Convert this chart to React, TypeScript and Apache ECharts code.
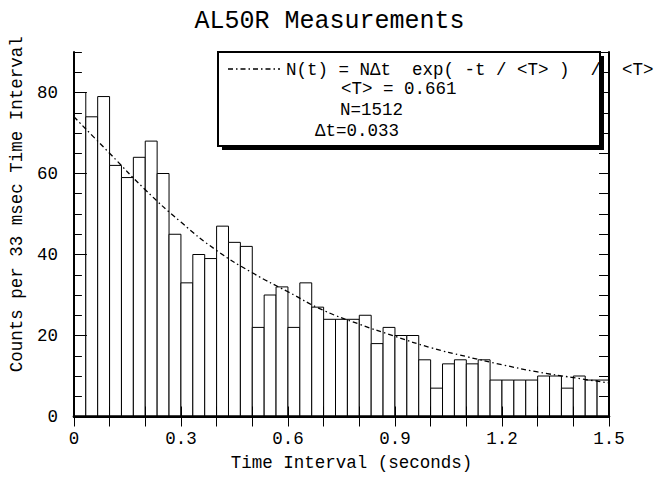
import React, { useEffect, useRef } from "react";
import * as echarts from "echarts";

// ---- data ----
const BIN_WIDTH = 1 / 30; // seconds per bin (33 msec)
const counts: number[] = [
  80, 74, 79, 62, 59, 64, 68, 60, 45, 33,
  40, 39, 47, 43, 42, 22, 30, 32, 22, 33,
  27, 24, 24, 24, 25, 18, 22, 20, 20, 14,
  7, 13, 14, 13, 14, 9, 9, 9, 9, 10,
  10, 7, 10, 9, 9,
];
const fitTimes: number[] = [0, 0.1, 0.2, 0.3, 0.4, 0.5, 0.6, 0.7, 0.8, 0.9, 1.0, 1.1, 1.2, 1.3, 1.4, 1.5];
const fitValues: number[] = [74, 65, 56, 48, 41, 35.5, 30.8, 26.2, 22.8, 19.8, 17, 14.8, 12.8, 11, 9.6, 8.3];
const xTicks = { min: 0, max: 1.5, interval: 0.3 };
const yTicks = { min: 0, max: 90, interval: 20 };

const TITLE = "AL50R Measurements";
const X_NAME = "Time Interval (seconds)";
const Y_NAME = "Counts per 33 msec Time Interval";
const FIT_NAME = "N(t) = N\u0394t  exp( -t / <T> )  /  <T>";
const INFO_LINES = ["<T> = 0.661", "N=1512", "\u0394t=0.033"];

const MONO = "'Liberation Mono', 'Courier New', monospace";
const FIT_DASH = [5, 3, 1.5, 3];

export default function App() {
  const ref = useRef<HTMLDivElement>(null);

  useEffect(() => {
    document.body.style.margin = "0";
    if (!ref.current) return;
    const chart = echarts.init(ref.current, undefined, { renderer: "svg" });

    const histData = counts.map((c, i) => [i * BIN_WIDTH, (i + 1) * BIN_WIDTH, c]);
    const fitData = fitTimes.map((t, i) => [t, fitValues[i]]);

    const axisLineStyle = { color: "#000", width: 2 };
    const fontBase = { fontFamily: MONO, color: "#000", fontSize: 17.5 };
    const textStyle = (text: string) => ({
      text,
      font: `17.5px ${MONO}`,
      fill: "#000",
      verticalAlign: "middle",
      align: "left",
    });

    const option: any = {
      animation: false,
      backgroundColor: "#fff",
      title: {
        text: TITLE,
        left: "center",
        top: 4,
        textStyle: { fontFamily: MONO, fontSize: 25, fontWeight: "normal", color: "#000" },
      },
      grid: { left: 71, right: 50, top: 52, bottom: 66.5 },
      xAxis: [
        {
          type: "value",
          position: "bottom",
          min: xTicks.min,
          max: xTicks.max,
          interval: xTicks.interval,
          z: 5,
          axisLine: { show: true, lineStyle: { ...axisLineStyle, width: 2.5 } },
          axisTick: { show: true, inside: true, length: 10, lineStyle: { color: "#000", width: 1 } },
          minorTick: { show: true, splitNumber: 3, length: 10, lineStyle: { color: "#000", width: 1 } },
          splitLine: { show: false },
          axisLabel: { ...fontBase, margin: 13 },
          name: X_NAME,
          nameLocation: "middle",
          nameGap: 37,
          nameTextStyle: { ...fontBase, padding: [0, 0, 0, 20] },
        },
        {
          type: "value",
          position: "top",
          min: xTicks.min,
          max: xTicks.max,
          interval: xTicks.interval,
          z: 5,
          axisLine: { show: true, lineStyle: axisLineStyle },
          axisTick: { show: true, inside: true, length: 10, lineStyle: { color: "#000", width: 1 } },
          minorTick: { show: true, splitNumber: 3, length: 10, lineStyle: { color: "#000", width: 1 } },
          splitLine: { show: false },
          axisLabel: { show: false },
        },
      ],
      yAxis: [
        {
          type: "value",
          position: "left",
          min: yTicks.min,
          max: yTicks.max,
          interval: yTicks.interval,
          z: 5,
          axisLine: { show: true, lineStyle: axisLineStyle },
          axisTick: { show: true, inside: true, length: 13, lineStyle: { color: "#000", width: 1 } },
          splitLine: { show: false },
          axisLabel: { ...fontBase, margin: 16, showMaxLabel: false },
          name: Y_NAME,
          nameLocation: "middle",
          nameGap: 40,
          nameTextStyle: { ...fontBase, padding: [0, 0, 0, 60] },
        },
        {
          type: "value",
          position: "left",
          min: yTicks.min,
          max: yTicks.max,
          interval: 5,
          z: 5,
          axisLine: { show: false },
          axisTick: { show: true, inside: true, length: 8, lineStyle: { color: "#000", width: 1 } },
          splitLine: { show: false },
          axisLabel: { show: false },
        },
        {
          type: "value",
          position: "right",
          min: yTicks.min,
          max: yTicks.max,
          interval: 5,
          z: 5,
          axisLine: { show: true, lineStyle: axisLineStyle },
          axisTick: { show: true, inside: true, length: 10, lineStyle: { color: "#000", width: 1 } },
          splitLine: { show: false },
          axisLabel: { show: false },
        },
      ],
      graphic: [
        {
          type: "rect",
          z: 1,
          shape: { x: 222, y: 56, width: 382, height: 94 },
          style: { fill: "#000" },
        },
        {
          type: "rect",
          z: 1,
          shape: { x: 218, y: 52, width: 382, height: 94 },
          style: { fill: "#fff", stroke: "#000", lineWidth: 2 },
        },
        {
          type: "line",
          z: 7,
          shape: { x1: 228, y1: 69, x2: 280, y2: 69 },
          style: { stroke: "#000", lineWidth: 1.3, lineDash: FIT_DASH },
        },
        { type: "text", z: 7, x: 286, y: 70, style: textStyle(FIT_NAME) },
        { type: "text", z: 7, x: 341, y: 89, style: textStyle(INFO_LINES[0]) },
        { type: "text", z: 7, x: 340, y: 110, style: textStyle(INFO_LINES[1]) },
        { type: "text", z: 7, x: 315, y: 131, style: textStyle(INFO_LINES[2]) },
      ],
      series: [
        {
          type: "custom",
          name: "counts",
          xAxisIndex: 0,
          yAxisIndex: 0,
          z: 2,
          encode: { x: [0, 1], y: 2 },
          data: histData,
          renderItem: (params: any, api: any) => {
            const x0 = api.value(0);
            const x1 = api.value(1);
            const c = api.value(2);
            const p0 = api.coord([x0, c]);
            const p1 = api.coord([x1, 0]);
            return {
              type: "rect",
              shape: { x: p0[0], y: p0[1], width: p1[0] - p0[0], height: p1[1] - p0[1] },
              style: { fill: "#fff", stroke: "#000", lineWidth: 1 },
            };
          },
        },
        {
          type: "line",
          name: FIT_NAME,
          xAxisIndex: 0,
          yAxisIndex: 0,
          z: 3,
          data: fitData,
          smooth: true,
          symbol: "none",
          showSymbol: false,
          lineStyle: { color: "#000", width: 1.3, type: FIT_DASH },
          itemStyle: { color: "#000" },
        },
      ],
    };

    chart.setOption(option);
    return () => chart.dispose();
  }, []);

  return (
    <div
      ref={ref}
      style={{ position: "fixed", left: 0, top: 0, width: 659, height: 483, background: "#fff" }}
    />
  );
}
